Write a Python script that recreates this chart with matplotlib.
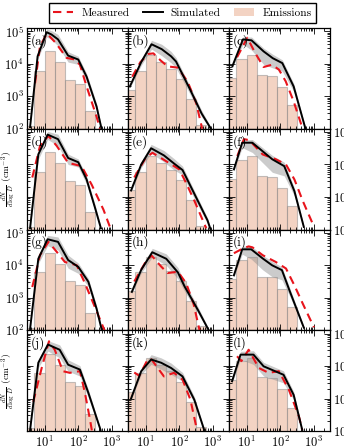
import matplotlib
matplotlib.use("Agg")
import matplotlib.pyplot as plt
import numpy as np
from matplotlib.lines import Line2D
from matplotlib.patches import Patch

plt.rcParams['font.family'] = 'serif'
plt.rcParams['font.serif'] = ['cmr10']
plt.rcParams['mathtext.fontset'] = 'cm'
plt.rcParams['axes.formatter.use_mathtext'] = True
plt.rcParams['font.size'] = 9

labels = ['(a)', '(b)', '(c)', '(d)', '(e)', '(f)', '(g)', '(h)', '(i)', '(j)', '(k)', '(l)']

# emission histogram, one per column
bin_edges = [2.5, 5, 10, 20, 40, 80, 160, 320, 640]
emissions = [
    [120, 6000, 24000, 11000, 3200, 2400, 340, 0],
    [1600, 6000, 18000, 11000, 6800, 3300, 800, 130],
    [3700, 14000, 18000, 4500, 4200, 1900, 520, 0],
]

# simulated size distributions (log10 of dN/dlogD)
sim_d = [
    [3.7, 6.2, 11.5, 16, 25, 50, 100, 177, 350, 490],
    [3.4, 7.4, 15, 30, 57, 80, 200, 460, 870],
    [3.8, 7.8, 14, 32, 60, 115, 250, 560],
    [3.7, 6.5, 12.3, 25, 50, 100, 177, 316, 470],
    [3.7, 7.4, 14.6, 35, 70, 125, 280, 690, 850],
    [4.2, 7.4, 14.8, 58, 131, 263, 500],
    [3.7, 6.5, 12.3, 25, 50, 100, 200, 350, 490],
    [3.9, 7.4, 15.8, 41, 91, 145, 360, 750],
    [4.2, 7.4, 13.7, 30, 57, 112, 195, 500],
    [3.7, 6.5, 12.6, 28, 50, 112, 200, 460],
    [3.7, 7.4, 14.6, 29, 57, 125, 280, 550],
    [3.7, 6.6, 16, 32, 125, 250, 450],
]
sim_n = [
    [2.05, 4.23, 4.97, 4.9, 4.75, 4.25, 4.13, 3.6, 2.68, 2.0],
    [3.3, 4.05, 4.6, 4.45, 4.23, 4.07, 3.25, 2.47, 2.0],
    [3.93, 4.75, 4.72, 4.38, 4.17, 4.02, 3.3, 2.0],
    [2.04, 4.31, 4.92, 4.78, 4.2, 4.07, 3.54, 2.66, 2.04],
    [3.2, 4.0, 4.5, 4.28, 4.03, 3.83, 3.1, 2.28, 2.0],
    [3.85, 4.67, 4.67, 4.16, 3.95, 3.18, 2.08],
    [2.04, 4.2, 4.8, 4.72, 4.16, 3.95, 3.49, 2.66, 2.04],
    [3.18, 3.86, 4.4, 4.2, 3.78, 3.34, 2.62, 2.0],
    [3.69, 4.49, 4.49, 4.21, 4.0, 3.85, 3.18, 2.08],
    [2.03, 4.1, 4.66, 4.5, 4.04, 3.89, 3.17, 2.03],
    [3.0, 3.84, 4.2, 4.1, 3.94, 3.68, 2.96, 2.03],
    [3.53, 4.35, 4.35, 3.99, 3.73, 3.11, 2.03],
]
# spread of the simulations (decades above / below)
band_hi = [
    [0.03, 0.08, 0.1, 0.12, 0.15, 0.12, 0.1, 0.1, 0.1, 0.05],
    [0.05, 0.1, 0.12, 0.15, 0.15, 0.12, 0.1, 0.1, 0.05],
    [0.05, 0.08, 0.1, 0.1, 0.12, 0.1, 0.1, 0.05],
    [0.03, 0.08, 0.1, 0.15, 0.12, 0.1, 0.1, 0.1, 0.05],
    [0.05, 0.1, 0.12, 0.15, 0.15, 0.12, 0.1, 0.08, 0.05],
    [0.05, 0.08, 0.1, 0.12, 0.12, 0.1, 0.05],
    [0.03, 0.1, 0.12, 0.15, 0.15, 0.12, 0.1, 0.1, 0.05],
    [0.05, 0.1, 0.12, 0.15, 0.15, 0.12, 0.1, 0.05],
    [0.05, 0.1, 0.1, 0.1, 0.12, 0.1, 0.1, 0.05],
    [0.03, 0.1, 0.12, 0.15, 0.15, 0.12, 0.1, 0.05],
    [0.05, 0.1, 0.15, 0.15, 0.15, 0.12, 0.1, 0.05],
    [0.05, 0.1, 0.12, 0.12, 0.12, 0.1, 0.05],
]
band_lo = [
    [0.03, 0.1, 0.15, 0.15, 0.2, 0.2, 0.15, 0.15, 0.1, 0.05],
    [0.05, 0.1, 0.15, 0.2, 0.2, 0.2, 0.15, 0.1, 0.05],
    [0.05, 0.15, 0.3, 0.4, 0.3, 0.25, 0.15, 0.05],
    [0.03, 0.15, 0.15, 0.2, 0.2, 0.15, 0.15, 0.1, 0.05],
    [0.05, 0.1, 0.15, 0.2, 0.2, 0.15, 0.15, 0.1, 0.05],
    [0.05, 0.15, 0.3, 0.4, 0.3, 0.15, 0.05],
    [0.03, 0.15, 0.2, 0.25, 0.25, 0.2, 0.15, 0.1, 0.05],
    [0.05, 0.1, 0.15, 0.2, 0.2, 0.15, 0.1, 0.05],
    [0.05, 0.15, 0.3, 0.35, 0.35, 0.3, 0.15, 0.05],
    [0.03, 0.15, 0.2, 0.25, 0.2, 0.2, 0.15, 0.05],
    [0.05, 0.1, 0.15, 0.2, 0.2, 0.15, 0.1, 0.05],
    [0.05, 0.15, 0.3, 0.3, 0.25, 0.15, 0.05],
]

# measured size distributions (log10 of dN/dlogD)
meas_d = [
    [5.2, 7.3, 11.7, 21.5, 45, 80, 112, 177, 350, 440],
    [4.0, 7, 12, 17, 28, 45, 90, 177, 316, 480],
    [5.2, 10.5, 18, 32, 57, 91, 145, 250, 445],
    [4.3, 7.3, 13, 23, 50, 125, 250, 560, 900],
    [4.6, 10, 16, 41, 100, 160, 285, 630],
    [5.3, 8.3, 12, 30, 74, 148, 263, 470, 1000],
    [4.3, 7.3, 13, 23, 40, 90, 160, 285, 600],
    [4.6, 10, 15, 29, 45, 91, 160, 263, 400],
    [4.2, 8.2, 11.5, 15, 30, 74, 148, 263, 470, 1000],
    [4.6, 8.2, 13.5, 20, 35, 56, 112, 158, 224, 255],
    [4.6, 6.5, 11.5, 15, 35, 70, 125, 215, 335],
    [5.2, 7, 11.5, 23, 45, 91, 180, 360, 450],
]
meas_n = [
    [3.4, 4.54, 4.93, 4.64, 4.18, 4.13, 3.97, 3.3, 2.37, 2.0],
    [3.6, 4.05, 4.3, 4.32, 4.1, 3.92, 3.88, 3.45, 2.8, 2.0],
    [4.2, 4.8, 4.33, 3.9, 3.97, 3.82, 3.46, 2.84, 2.05],
    [3.6, 4.57, 4.88, 4.57, 4.05, 3.95, 3.38, 2.61, 2.04],
    [3.6, 4.2, 4.36, 4.1, 3.85, 3.43, 2.87, 2.04],
    [4.26, 4.78, 4.75, 4.31, 4.16, 4.0, 3.54, 2.87, 2.09],
    [3.33, 4.31, 4.72, 4.41, 4.1, 4.0, 3.43, 2.81, 2.0],
    [3.5, 4.1, 4.3, 3.96, 3.76, 3.8, 3.45, 2.83, 2.0],
    [4.37, 4.53, 4.58, 4.55, 4.31, 4.1, 3.9, 3.38, 2.81, 2.09],
    [2.9, 3.94, 4.76, 4.5, 3.84, 3.79, 3.84, 3.17, 2.34, 2.0],
    [3.8, 3.7, 4.2, 4.2, 3.68, 3.79, 3.58, 2.96, 2.03],
    [4.3, 4.15, 4.5, 3.94, 3.79, 3.84, 3.27, 2.44, 2.03],
]

fig, axes = plt.subplots(4, 3, figsize=(3.44, 4.47), dpi=100, sharex=True, sharey=True)
fig.subplots_adjust(left=27/344, right=330/344, bottom=16/447, top=419/447,
                    wspace=0, hspace=0)

edges = np.array(bin_edges)
for k, ax in enumerate(axes.flat):
    row, col = divmod(k, 3)
    ax.set_xscale('log')
    ax.set_yscale('log')

    ax.bar(edges[:-1], emissions[col], width=np.diff(edges), align='edge', bottom=1,
           color='#e9a888', alpha=0.5, edgecolor='#8a8a8a', linewidth=0.8, zorder=1)

    d = np.array(sim_d[k])
    n = np.array(sim_n[k])
    ax.fill_between(d, 10**(n - np.array(band_lo[k])), 10**(n + np.array(band_hi[k])),
                    color='0.55', alpha=0.45, linewidth=0, zorder=2)
    ax.plot(d, 10**n, color='black', lw=1.4, zorder=4)
    ax.plot(meas_d[k], 10**np.array(meas_n[k]), color='#e8141c', lw=1.5,
            dashes=(4, 2.6), zorder=3)

    ax.text(0.04, 0.87, labels[k], transform=ax.transAxes, fontsize=9.5, va='center')

    ax.set_xlim(3, 3000)
    ax.set_ylim(1e2, 10**5.1)
    ax.tick_params(which='both', direction='in', top=True, right=True,
                   labelleft=False, labelright=False, width=0.6, labelsize=9, pad=2.5)
    ax.tick_params(which='major', length=4)
    ax.tick_params(which='minor', length=2)
    for s in ax.spines.values():
        s.set_linewidth(0.9)

    if col == 0 and row in (0, 2):
        ax.tick_params(labelleft=True)
    if col == 2 and row in (1, 3):
        ax.tick_params(labelright=True)
    if col == 0 and row in (1, 3):
        ax.set_ylabel(r'$\frac{dN}{d\,\log\,D}$ (cm$^{-3}$)', fontsize=7)
        ax.yaxis.set_label_coords(-0.09, 0.5)

handles = [
    Line2D([], [], color='#e8141c', lw=1.5, dashes=(4, 2.6)),
    Line2D([], [], color='black', lw=1.4),
    Patch(facecolor='#e9a888', alpha=0.5, edgecolor='none'),
]
fig.legend(handles, ['Measured', 'Simulated', 'Emissions'], loc='center',
           bbox_to_anchor=(0.53, 0.971), ncol=3, frameon=True, fancybox=False,
           edgecolor='black', fontsize=8.2, handlelength=1.75, columnspacing=1.2,
           handletextpad=0.7, borderpad=0.4, framealpha=1)

plt.savefig('out.png', dpi=100)
